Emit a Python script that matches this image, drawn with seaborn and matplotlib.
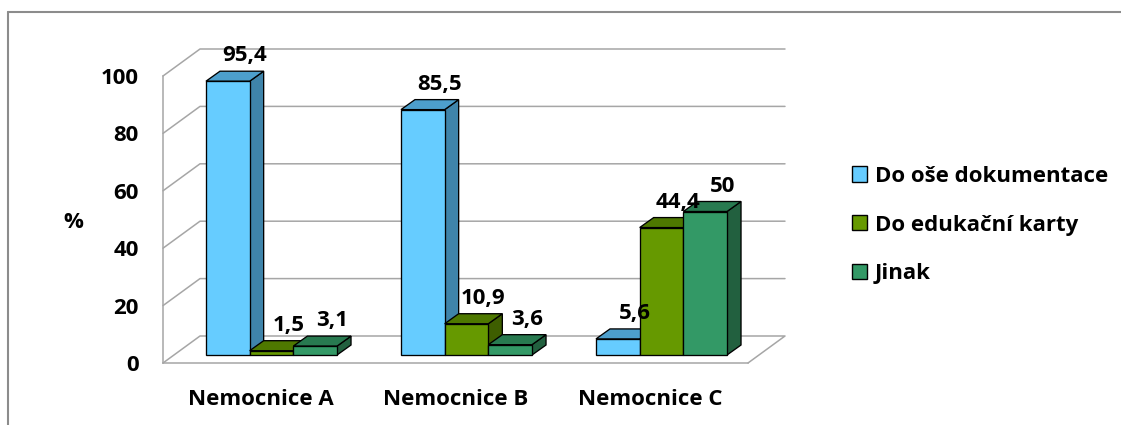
import matplotlib
matplotlib.use("Agg")
import matplotlib.pyplot as plt
from matplotlib.lines import Line2D
from matplotlib.patches import Polygon, Patch
from matplotlib.transforms import ScaledTranslation, IdentityTransform
import numpy as np
import pandas as pd
import seaborn as sns

# Data
hospitals = ["Nemocnice A", "Nemocnice B", "Nemocnice C"]
series = ["Do oše dokumentace", "Do edukační karty", "Jinak"]
do_dokumentace = [95.4, 85.5, 5.6]
do_karty = [1.5, 10.9, 44.4]
jinak = [3.1, 3.6, 50]
y_ticks = [0, 20, 40, 60, 80, 100]

front_colors = ["#66CCFF", "#669900", "#339966"]
top_colors = ["#4D9FCC", "#4E7800", "#287A50"]
side_colors = ["#3F84AA", "#3E5E00", "#22603F"]

sns.set_style("white")
plt.rcParams["font.family"] = ["Open Sans", "DejaVu Sans"]
plt.rcParams["font.weight"] = "bold"
plt.rcParams["text.color"] = "black"
plt.rcParams["xtick.labelcolor"] = "black"
plt.rcParams["ytick.labelcolor"] = "black"

df = pd.DataFrame({
    "hospital": hospitals * 3,
    "series": [s for s in series for _ in hospitals],
    "value": do_dokumentace + do_karty + jinak,
})

W, H = 1121, 425
fig = plt.figure(figsize=(W / 100, H / 100), dpi=100)
ax = fig.add_axes([163 / W, (H - 363) / H, 585 / W, 287 / H])

sns.barplot(data=df, x="hospital", y="value", hue="series", hue_order=series,
            order=hospitals, palette=front_colors, saturation=1, width=0.672,
            edgecolor="black", linewidth=0.95, legend=False, ax=ax)

ax.set_xlim(-0.5, 2.5)
ax.set_ylim(0, 100)
ax.set_xlabel("")
ax.set_ylabel("")

grid_col = "#A6A6A6"
for s in ["top", "right"]:
    ax.spines[s].set_visible(False)
for s in ["left", "bottom"]:
    ax.spines[s].set_color(grid_col)
    ax.spines[s].set_linewidth(1.1)
    ax.spines[s].set_zorder(1)

fs = 16
ax.set_yticks(y_ticks)
ax.set_yticklabels([str(t) for t in y_ticks], fontsize=fs, fontweight="bold",
                   color="black")
ax.tick_params(axis="y", length=4.5, width=1, color=grid_col, pad=13)
ax.set_xticks(range(len(hospitals)))
ax.set_xticklabels(hospitals, fontsize=fs, fontweight="bold", color="black")
ax.set_xticks(np.arange(-0.5, len(hospitals), 1.0), minor=True)
ax.tick_params(axis="x", which="major", length=0, pad=19)
ax.tick_params(axis="x", which="minor", length=5.5, width=1, color=grid_col)
ax.grid(False)

# Perspective: back wall depth and bar depth, in pixels
wall_dx, wall_dy = 37, 27
bar_dx, bar_dy = 14, 10
shift_px = (11, 8)
bar_shift = ScaledTranslation(shift_px[0] / 100, shift_px[1] / 100, fig.dpi_scale_trans)
bar_trans = ax.transData + bar_shift

# Back wall gridlines, left wall diagonals and floor
ident = IdentityTransform()
for t in y_ticks:
    (fx0, fy), = ax.transData.transform([(-0.5, t)])
    (fx1, _), = ax.transData.transform([(2.5, t)])
    pts = [(fx0, fy), (fx0 + wall_dx, fy + wall_dy), (fx1 + wall_dx, fy + wall_dy)]
    if t == 0:
        pts.append((fx1, fy))
    xs, ys = zip(*pts)
    ax.add_line(Line2D(xs, ys, transform=ident, color=grid_col, lw=1.1,
                       zorder=1, clip_on=False))

# Bars with 3D top and side faces
for h, cont in enumerate(ax.containers):
    for bar in cont:
        x0 = bar.get_x()
        x1 = x0 + bar.get_width()
        v = bar.get_height()
        bar.set_transform(bar_trans)
        bar.set_clip_on(False)
        bar.set_zorder(3 + 3 * h + 2)
        (dx0, dy0), (dx1, dy1) = bar_trans.transform([(x0, 0), (x1, v)])
        side = Polygon([(dx1, dy0), (dx1, dy1), (dx1 + bar_dx, dy1 + bar_dy),
                        (dx1 + bar_dx, dy0 + bar_dy)], closed=True,
                       facecolor=side_colors[h], edgecolor="black", lw=0.95,
                       transform=ident, zorder=3 + 3 * h, clip_on=False)
        top = Polygon([(dx0, dy1), (dx1, dy1), (dx1 + bar_dx, dy1 + bar_dy),
                       (dx0 + bar_dx, dy1 + bar_dy)], closed=True,
                      facecolor=top_colors[h], edgecolor="black", lw=0.95,
                      transform=ident, zorder=3 + 3 * h + 1, clip_on=False)
        ax.add_patch(side)
        ax.add_patch(top)
        label = f"{v:g}".replace(".", ",")
        ax.annotate(label, xy=((x0 + x1) / 2, v), xycoords="data",
                    xytext=((shift_px[0] + 17) * 0.72, (shift_px[1] + 15) * 0.72),
                    textcoords="offset points", ha="center", va="bottom",
                    fontsize=fs, fontweight="bold", color="black",
                    annotation_clip=False, zorder=20)

ax.set_xlim(-0.5, 2.5)
ax.set_ylim(0, 100)

# Axis title
fig.text(73 / W, 1 - 222 / H, "%", ha="center", va="center",
         fontsize=fs, fontweight="bold", color="black")

# Legend
handles = [Patch(facecolor=c, edgecolor="black", lw=1) for c in front_colors]
fig.legend(handles, series, loc="center left",
           bbox_to_anchor=(832 / W, 1 - 225 / H), frameon=False,
           handlelength=0.68, handleheight=0.68, handletextpad=0.35,
           labelspacing=1.25, prop={"size": fs, "weight": "bold"},
           labelcolor="black")

# Outer chart frame
frame_col = "#8C8C8C"
fig.add_artist(Line2D([7.5 / W, 1], [1 - 11.5 / H] * 2, transform=fig.transFigure,
                      color=frame_col, lw=1.5))
fig.add_artist(Line2D([7.5 / W, 7.5 / W], [0, 1 - 11.5 / H], transform=fig.transFigure,
                      color=frame_col, lw=1.5))

fig.savefig("out.png", dpi=100)
